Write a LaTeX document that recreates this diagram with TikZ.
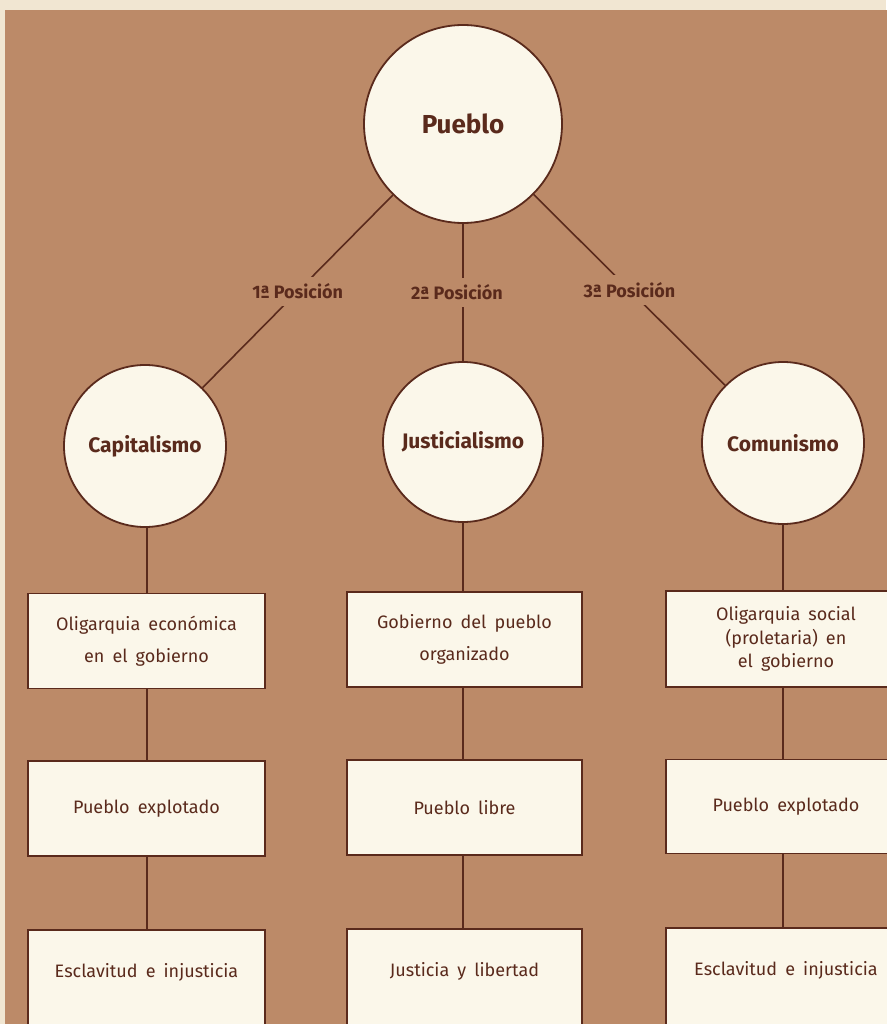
\documentclass[tikz,border=0pt]{standalone}
\usepackage{fontspec}
\setmainfont{Fira Sans}
\definecolor{bgbrown}{HTML}{BC8A68}
\definecolor{paper}{HTML}{F1E6D2}
\definecolor{cream}{HTML}{FBF7EA}
\definecolor{ink}{HTML}{5A2A1C}
\newcommand\myboxfont{\fontsize{18}{32}\selectfont\spaceskip=0.45em\relax}
\newcommand\myboxfontsm{\fontsize{18}{23.5}\selectfont\spaceskip=0.45em\relax}
\tikzset{
  bubble/.style={circle,draw=ink,line width=1.8pt,fill=cream,inner sep=0pt,text=ink,font=\bfseries\fontsize{21}{24}\selectfont},
  stagebox/.style={rectangle,draw=ink,line width=1.8pt,fill=cream,inner sep=0pt,text=ink,align=center,font=\myboxfont},
  conn/.style={draw=ink,line width=1.6pt},
  poslabel/.style={fill=bgbrown,text=ink,inner xsep=3pt,inner ysep=7pt,font=\bfseries\fontsize{18}{20}\selectfont}
}
\begin{document}
\begin{tikzpicture}[x=1pt,y=-1pt]
\useasboundingbox (0,0) rectangle (886,1024);
\fill[paper] (0,0) rectangle (886,1024);
\fill[bgbrown] (5,10) rectangle (890,1030);
% circles
\node[bubble,minimum size=198pt,font=\bfseries\fontsize{26}{30}\selectfont] (pueblo) at (463,124) {Pueblo};
\node[bubble,minimum size=162pt] (cap) at (145,446) {Capitalismo};
\node[bubble,minimum size=160pt] (just) at (463,442) {Justicialismo};
\node[bubble,minimum size=162pt] (com) at (783,443) {Comunismo};
% boxes
\node[stagebox,minimum width=237pt,minimum height=95pt] (c1) at (146.5,641) {Oligarquia económica\\en el gobierno};
\node[stagebox,minimum width=237pt,minimum height=95pt] (c2) at (146.5,808.5) {Pueblo explotado};
\node[stagebox,minimum width=237pt,minimum height=100pt,anchor=north] (c3) at (146.5,929) {Esclavitud e injusticia\\[-14pt]\mbox{}};
\node[stagebox,minimum width=235pt,minimum height=95pt] (j1) at (464.5,639.5) {Gobierno del pueblo\\organizado};
\node[stagebox,minimum width=235pt,minimum height=95pt] (j2) at (464.5,807.5) {Pueblo libre};
\node[stagebox,minimum width=235pt,minimum height=100pt,anchor=north] (j3) at (464.5,928) {Justicia y libertad\\[-14pt]\mbox{}};
\node[stagebox,minimum width=240pt,minimum height=96pt,font=\myboxfontsm] (m1) at (786,639) {Oligarquia social\\(proletaria) en\\el gobierno};
\node[stagebox,minimum width=240pt,minimum height=94pt] (m2) at (786,806.5) {Pueblo explotado};
\node[stagebox,minimum width=240pt,minimum height=100pt,anchor=north] (m3) at (786,927) {Esclavitud e injusticia\\[-14pt]\mbox{}};
% connectors
\path[conn] (pueblo) -- node[poslabel,pos=0.5] {1ª Posición} (cap);
\path[conn] (pueblo) -- node[poslabel,pos=0.5,xshift=-6pt] {2ª Posición} (just);
\path[conn] (pueblo) -- node[poslabel,pos=0.5] {3ª Posición} (com);
\draw[conn] (cap.south -| 147,0) -- (c1.north -| 147,0);
\draw[conn] (c1.south -| 147,0) -- (c2.north -| 147,0);
\draw[conn] (c2.south -| 147,0) -- (c3.north -| 147,0);
\draw[conn] (just.south -| 463,0) -- (j1.north -| 463,0);
\draw[conn] (j1.south -| 463,0) -- (j2.north -| 463,0);
\draw[conn] (j2.south -| 463,0) -- (j3.north -| 463,0);
\draw[conn] (com.south -| 783,0) -- (m1.north -| 783,0);
\draw[conn] (m1.south -| 783,0) -- (m2.north -| 783,0);
\draw[conn] (m2.south -| 783,0) -- (m3.north -| 783,0);
\end{tikzpicture}
\end{document}
